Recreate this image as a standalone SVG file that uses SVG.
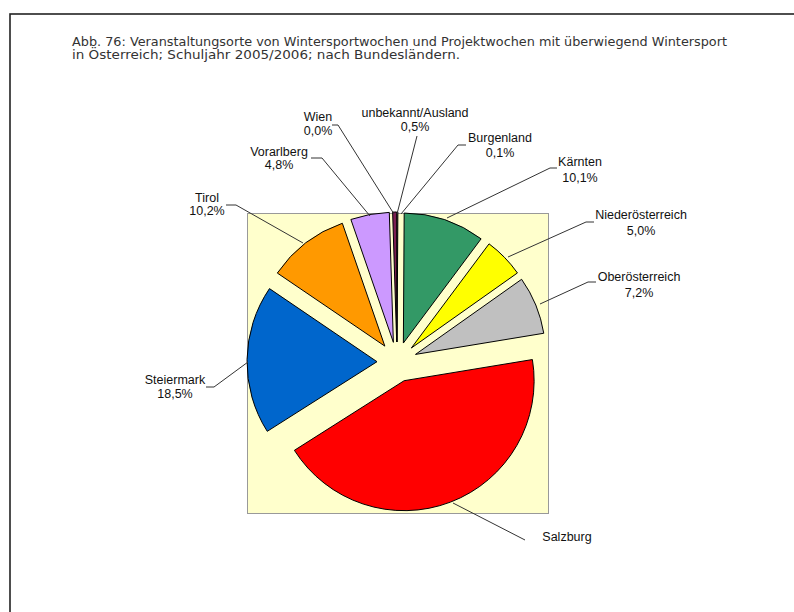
<svg xmlns="http://www.w3.org/2000/svg" width="794" height="612" viewBox="0 0 794 612">
<style>
.title{font-family:"DejaVu Sans","Liberation Sans",sans-serif;font-size:12px;fill:#333}
.lbl{font-family:"Liberation Sans",Arial,sans-serif;font-size:12.5px;fill:#111;text-anchor:middle}
.slice{stroke:#000;stroke-width:1;stroke-linejoin:round}
.lead{fill:none;stroke:#333;stroke-width:1}
</style>
<rect width="794" height="612" fill="#fff"/>
<rect x="10" y="14" width="800" height="620" fill="none" stroke="#222" stroke-width="1.6"/>
<g id="title">
<text class="title" x="72" y="46" textLength="655" lengthAdjust="spacingAndGlyphs">Abb. 76: Veranstaltungsorte von Wintersportwochen und Projektwochen mit überwiegend Wintersport</text>
<text class="title" x="72" y="59" textLength="388" lengthAdjust="spacingAndGlyphs">in Österreich; Schuljahr 2005/2006; nach Bundesländern.</text>
</g>
<rect id="plotarea" x="247.5" y="213.5" width="301" height="300" fill="#FFFFCC" stroke="#999" stroke-width="1"/>
<g id="slices">
<path id="burgenland" class="slice" fill="#FFFFCC" d="M397.06,342 L397.06,212 A130,130 0 0 1 397.88,212 Z"/>
<path id="kaernten" class="slice" fill="#339966" d="M403.36,343.04 L404.18,213.04 A130,130 0 0 1 481.1,238.84 Z"/>
<path id="niederoesterreich" class="slice" fill="#FFFF00" d="M411.32,348.04 L489.06,243.84 A130,130 0 0 1 517.44,272.95 Z"/>
<path id="oberoesterreich" class="slice" fill="#C0C0C0" d="M415.5,354.4 L521.62,279.31 A130,130 0 0 1 543.77,333.26 Z"/>
<path id="salzburg" class="slice" fill="#FF0000" d="M404.13,380.69 L532.4,359.55 A130,130 0 0 1 294.38,450.34 Z"/>
<path id="steiermark" class="slice" fill="#0066CC" d="M377,361.69 L267.25,431.34 A130,130 0 0 1 269.48,288.62 Z"/>
<path id="tirol" class="slice" fill="#FF9900" d="M384.84,346.12 L277.32,273.05 A130,130 0 0 1 342.34,223.26 Z"/>
<path id="vorarlberg" class="slice" fill="#CC99FF" d="M393.38,342.33 L350.88,219.47 A130,130 0 0 1 389.3,212.39 Z"/>
<path id="unbekannt" class="slice" fill="#7B1F52" d="M396.69,342 L392.61,212.06 A130,130 0 0 1 396.69,212 Z"/>
</g>
<g id="connectors">
<polyline class="lead" points="332,125 338,125 394,214"/>
<polyline class="lead" points="417,136 397,214"/>
<polyline class="lead" points="466,145 458,145 401,214"/>
<polyline class="lead" points="557,168 550,168 447,218"/>
<polyline class="lead" points="594,222 586,222 508,257"/>
<polyline class="lead" points="596,282 588,282 540,304"/>
<polyline class="lead" points="226,205 236,205 303,243"/>
<polyline class="lead" points="311,158 322,158 370,216"/>
<polyline class="lead" points="206,387 214,387 248,362"/>
<polyline class="lead" points="453,503 525,540"/>
</g>
<g id="label-wien"><text class="lbl" x="318" y="121">Wien</text><text class="lbl" x="318" y="135">0,0%</text></g>
<g id="label-unbekannt"><text class="lbl" x="415" y="117">unbekannt/Ausland</text><text class="lbl" x="415" y="131">0,5%</text></g>
<g id="label-vorarlberg"><text class="lbl" x="279" y="156">Vorarlberg</text><text class="lbl" x="279" y="169">4,8%</text></g>
<g id="label-tirol"><text class="lbl" x="207" y="202">Tirol</text><text class="lbl" x="207" y="215">10,2%</text></g>
<g id="label-burgenland"><text class="lbl" x="500" y="142">Burgenland</text><text class="lbl" x="500" y="157">0,1%</text></g>
<g id="label-kaernten"><text class="lbl" x="580" y="166">Kärnten</text><text class="lbl" x="580" y="182">10,1%</text></g>
<g id="label-niederoesterreich"><text class="lbl" x="641" y="219">Niederösterreich</text><text class="lbl" x="641" y="235">5,0%</text></g>
<g id="label-oberoesterreich"><text class="lbl" x="639" y="281">Oberösterreich</text><text class="lbl" x="639" y="297">7,2%</text></g>
<g id="label-steiermark"><text class="lbl" x="175" y="384">Steiermark</text><text class="lbl" x="175" y="398">18,5%</text></g>
<g id="label-salzburg"><text class="lbl" x="567" y="541">Salzburg</text></g>
</svg>
